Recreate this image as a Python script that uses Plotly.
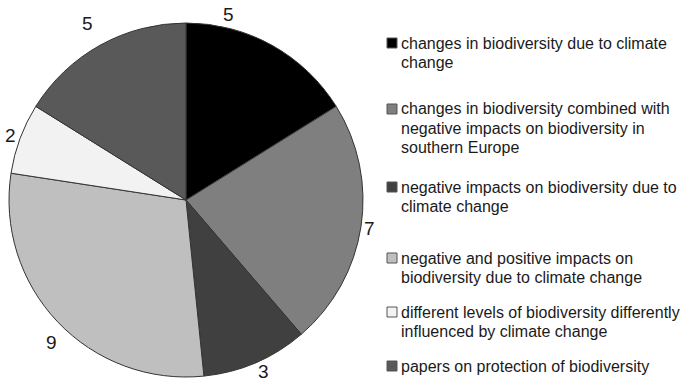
import math
import plotly.graph_objects as go

W, H = 681, 383

categories = [
    "changes in biodiversity due to climate<br>change",
    "changes in biodiversity combined with<br>negative impacts on biodiversity in<br>southern Europe",
    "negative impacts on biodiversity due to<br>climate change",
    "negative and positive impacts on<br>biodiversity due to climate change",
    "different levels of biodiversity differently<br>influenced by climate change",
    "papers on protection of biodiversity",
]
paper_counts = [5, 7, 3, 9, 2, 5]
slice_colors = ["#000000", "#7f7f7f", "#404040", "#bfbfbf", "#f2f2f2", "#595959"]

# legend row positions (pixel y of each entry's first line) and line pitch
legend_rows = [43, 109, 187, 258, 312, 366]
LINE_PITCH = 19
# value-label placement: distance from the centre and angular nudge (degrees)
label_dist = [190, 186, 188, 196, 187, 202]
label_nudge = [-16, 0, -1, -3, 0, 0]

FONT = "Liberation Sans, Arial, sans-serif"
TEXT = "#1a1a1a"


def px_x(x):
    return x / W


def px_y(y):
    return 1 - y / H


cx, cy, r = 186, 200, 177

fig = go.Figure(
    go.Pie(
        labels=[c.replace("<br>", " ") for c in categories],
        values=paper_counts,
        sort=False,
        direction="clockwise",
        rotation=0,
        marker=dict(colors=slice_colors, line=dict(color="#333333", width=1)),
        textinfo="none",
        domain=dict(x=[px_x(cx - r), px_x(cx + r)], y=[px_y(cy + r), px_y(cy - r)]),
        showlegend=False,
        hoverinfo="label+value",
    )
)

shapes = []
annotations = []

# value labels just outside each slice, at the slice's mid-angle
total = sum(paper_counts)
cum = 0
for v, d, nudge in zip(paper_counts, label_dist, label_nudge):
    mid = (cum + v / 2) / total * 360 + nudge
    cum += v
    a = math.radians(mid)
    lx = cx + d * math.sin(a)
    ly = cy - d * math.cos(a)
    annotations.append(
        dict(
            text=str(v), xref="paper", yref="paper",
            x=px_x(lx), y=px_y(ly), xanchor="center", yanchor="middle",
            showarrow=False, font=dict(family=FONT, size=19, color=TEXT),
        )
    )

# legend: swatch plus wrapped label, one annotation per line
for label, color, y in zip(categories, slice_colors, legend_rows):
    shapes.append(
        dict(
            type="rect", xref="paper", yref="paper",
            x0=px_x(387), x1=px_x(397), y0=px_y(y + 5), y1=px_y(y - 5),
            fillcolor=color, line=dict(color="#555555", width=1),
        )
    )
    for k, line in enumerate(label.split("<br>")):
        annotations.append(
            dict(
                text=line, xref="paper", yref="paper",
                x=px_x(398.5), y=px_y(y + k * LINE_PITCH), xanchor="left", yanchor="middle",
                align="left", showarrow=False,
                font=dict(family=FONT, size=16, color=TEXT),
            )
        )

fig.update_layout(
    width=W, height=H,
    margin=dict(l=0, r=0, t=0, b=0),
    paper_bgcolor="white", plot_bgcolor="white",
    shapes=shapes, annotations=annotations,
)

fig.write_html("out.html")
